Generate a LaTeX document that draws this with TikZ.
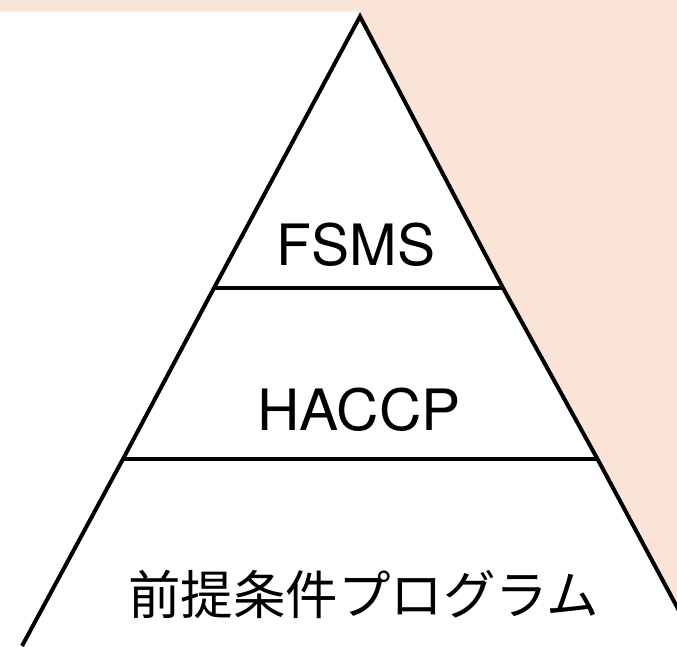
\documentclass[tikz,border=0pt]{standalone}
\usepackage{fontspec}
\setmainfont{TeX Gyre Heros}
\newfontfamily\jpfont{Noto Sans CJK JP}
\definecolor{peach}{HTML}{FAE4D7}
\tikzset{
  edge/.style={draw=black, line width=4pt, line join=miter},
  divider/.style={draw=black, line width=4pt},
  label/.style={inner sep=0pt, font=\fontsize{57}{60}\selectfont},
  jplabel/.style={inner sep=0pt, font=\jpfont\fontsize{52.5}{56}\selectfont}
}
\begin{document}
\begin{tikzpicture}[x=1pt,y=-1pt]
\useasboundingbox (0,0) rectangle (677,646);
\clip (0,0) rectangle (677,646);
\coordinate (A) at (360,16.5);
\coordinate (L1) at (214,288);
\coordinate (L2) at (123,459);
\coordinate (L3) at (22,646);
\coordinate (R1) at (503,288);
\coordinate (R2) at (597.5,459);
\coordinate (R3) at (698,646);
\fill[peach] (0,0) rectangle (677,646);
\fill[white] (0,11.7) -- (360,11.7) -- (A) -- (R1) -- (R2) -- (R3) -- (0,660) -- cycle;
\draw[edge] (L3) -- (L2) -- (L1) -- (A) -- (R1) -- (R2) -- (R3);
\draw[divider] (L1) -- (R1);
\draw[divider] (L2) -- (R2);
\node[label] (fsms) at (356,245) {FSMS};
\node[label, xscale=1.03] (haccp) at (359,410) {HACCP};
\node[jplabel] (prp) at (363.5,594) {前提条件プログラム};
\end{tikzpicture}
\end{document}
